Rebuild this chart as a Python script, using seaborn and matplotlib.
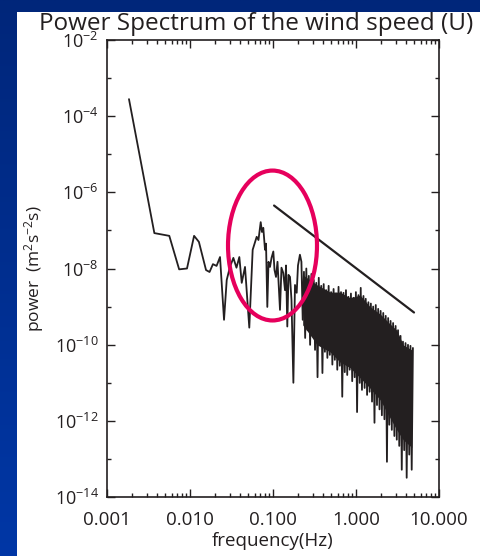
import numpy as np
import matplotlib
matplotlib.use("Agg")
import matplotlib.pyplot as plt
import seaborn as sns
import pandas as pd
from matplotlib.patches import Ellipse, Rectangle
from matplotlib.colors import LinearSegmentedColormap
from matplotlib.ticker import FixedLocator, FixedFormatter, LogLocator, NullFormatter

# ---------------- data ----------------
freq_low = [0.00184, 0.00372, 0.00563, 0.0074, 0.0092, 0.0112, 0.0128, 0.0156, 0.0172,
            0.0189, 0.0209, 0.0230, 0.0257, 0.0277, 0.0303, 0.0333, 0.0363, 0.0393,
            0.0420, 0.0460, 0.0518, 0.0569, 0.0636, 0.0668, 0.0711, 0.0736, 0.0764,
            0.0801, 0.0824, 0.0854, 0.0883, 0.0920, 0.0960, 0.1009, 0.1043, 0.1087,
            0.1133, 0.1214, 0.1265, 0.1330, 0.1395, 0.1435, 0.1487, 0.1537, 0.1603,
            0.167, 0.176, 0.184, 0.193, 0.200, 0.211]
power_low = [2.8e-4, 8.5e-8, 7.2e-8, 9.5e-9, 1.0e-8, 7.2e-8, 5.0e-8, 9.1e-9, 8.1e-9,
             1.3e-8, 1.17e-8, 2.0e-8, 4.5e-10, 5.0e-9, 1.1e-8, 1.9e-8, 1.05e-8, 2.0e-8,
             4.2e-9, 1.1e-8, 2.8e-10, 3.1e-8, 6.8e-8, 5.6e-8, 1.65e-7, 9.1e-8, 1.17e-7,
             3.1e-8, 4.5e-8, 9.8e-10, 1.5e-8, 1.1e-8, 1.9e-8, 2.8e-8, 9.1e-9, 6.0e-9,
             1.5e-8, 8.2e-10, 1.05e-8, 7.6e-9, 2.7e-9, 1.2e-8, 3.0e-10, 6.8e-9, 6.0e-9,
             1.5e-9, 1.0e-11, 3.7e-9, 2.3e-9, 1.2e-8, 2.3e-8]

freq_high = [0.220, 0.228, 0.236, 0.244, 0.252, 0.261, 0.270, 0.280, 0.290, 0.300,
             0.310, 0.321, 0.332, 0.344, 0.356, 0.368, 0.381, 0.394, 0.408, 0.422,
             0.437, 0.452, 0.468, 0.484, 0.501, 0.519, 0.537, 0.556, 0.575, 0.595,
             0.616, 0.638, 0.660, 0.683, 0.707, 0.732, 0.757, 0.784, 0.811, 0.840,
             0.869, 0.900, 0.931, 0.964, 0.997, 1.03, 1.07, 1.11, 1.14, 1.18,
             1.23, 1.27, 1.31, 1.36, 1.41, 1.46, 1.51, 1.56, 1.61, 1.67,
             1.73, 1.79, 1.85, 1.92, 1.98, 2.05, 2.13, 2.20, 2.28, 2.36,
             2.44, 2.52, 2.61, 2.70, 2.80, 2.90, 3.00, 3.10, 3.21, 3.32,
             3.44, 3.56, 3.68, 3.81, 3.95, 4.08, 4.23, 4.38, 4.53, 4.69, 4.85]
power_high = [1.5e-8, 4.5e-10, 8.2e-9, 1.5e-10, 1.0e-8, 2.4e-10, 6.4e-9, 9.9e-11, 7.2e-9, 1.8e-10,
              5.0e-9, 7.3e-11, 4.2e-9, 1.4e-11, 5.7e-9, 9.9e-11, 3.5e-9, 1.8e-11, 3.9e-9, 6.5e-11,
              2.7e-9, 4.5e-11, 3.5e-9, 5.4e-11, 2.4e-9, 3.0e-11, 2.9e-9, 4.0e-11, 2.2e-9, 2.2e-11,
              3.3e-9, 2.8e-11, 2.4e-9, 4.3e-12, 2.3e-9, 1.9e-11, 2.7e-9, 1.6e-11, 1.8e-9, 2.2e-11,
              2.2e-9, 1.1e-11, 1.7e-9, 1.4e-11, 2.4e-9, 1.7e-12, 2.0e-9, 9.9e-12, 3.1e-9, 6.5e-12,
              1.9e-9, 7.3e-12, 1.6e-9, 4.8e-12, 1.3e-9, 5.8e-12, 1.2e-9, 3.2e-12, 1.0e-9, 8.9e-13,
              1.1e-9, 2.6e-12, 8.7e-10, 2.0e-12, 7.7e-10, 1.4e-12, 6.8e-10, 1.1e-12, 5.7e-10, 8.4e-14,
              5.0e-10, 7.9e-13, 4.2e-10, 5.8e-13, 3.7e-10, 4.0e-13, 3.1e-10, 3.2e-13, 2.4e-10, 2.2e-13,
              1.7e-10, 5.2e-14, 1.2e-10, 1.7e-13, 1.1e-10, 3.2e-14, 9.9e-11, 1.3e-13, 9.3e-11, 5.2e-14, 8.2e-11]

# solid (fully inked) body of the dense high-frequency part
body_freq = [0.228, 0.280, 0.34, 0.486, 0.641, 0.847, 1.12, 1.47, 1.95, 2.57, 3.10, 3.70, 4.70]
body_upper = [6.8e-9, 5.0e-9, 3.7e-9, 2.4e-9, 2.4e-9, 1.7e-9, 2.0e-9, 1.0e-9, 6.4e-10,
              3.5e-10, 2.4e-10, 9.9e-11, 7.3e-11]
body_lower = [3.3e-10, 1.8e-10, 9.9e-11, 6.5e-11, 3.5e-11, 2.5e-11, 1.35e-11, 7.3e-12,
              3.6e-12, 1.2e-12, 5.8e-13, 3.2e-13, 2.0e-13]

ref_freq = [0.103, 5.0]
ref_power = [4.5e-7, 7.0e-10]

x_ticks = [0.001, 0.01, 0.1, 1.0, 10.0]
x_tick_labels = ["0.001", "0.010", "0.100", "1.000", "10.000"]
y_ticks = [1e-14, 1e-12, 1e-10, 1e-8, 1e-6, 1e-4, 1e-2]
y_tick_labels = [r"$10^{-14}$", r"$10^{-12}$", r"$10^{-10}$", r"$10^{-8}$",
                 r"$10^{-6}$", r"$10^{-4}$", r"$10^{-2}$"]
y_minor_ticks = [1e-13, 1e-11, 1e-9, 1e-7, 1e-5, 1e-3]

title = "Power Spectrum of the wind speed (U)"
x_label = "frequency(Hz)"
y_label = r"power  (m$^{2}$s$^{-2}$s)"

# ---------------- style ----------------
sns.set_theme(style="ticks")
plt.rcParams["font.family"] = ["Open Sans", "DejaVu Sans"]
plt.rcParams["mathtext.default"] = "regular"
ink = "#231f20"

W, H = 480, 556
fig = plt.figure(figsize=(W / 100, H / 100), dpi=100)

# background: blue gradient with white panel
bg = fig.add_axes([0, 0, 1, 1], zorder=0)
grad = np.linspace(0, 1, 256).reshape(-1, 1)
cmap = LinearSegmentedColormap.from_list("bg", ["#00267a", "#0037a6"])
bg.imshow(grad, aspect="auto", cmap=cmap, extent=[0, 1, 0, 1], origin="upper")
bg.add_patch(Rectangle((17 / W, 0), 1, (H - 12) / H, facecolor="white", edgecolor="none"))
bg.set_xlim(0, 1)
bg.set_ylim(0, 1)
bg.axis("off")

ax = fig.add_axes([107 / W, 1 - 497 / H, 332 / W, 457 / H], zorder=1)
ax.set_facecolor("white")
ax.set_xscale("log")
ax.set_yscale("log")

ax.fill_between(body_freq, body_lower, body_upper, color=ink, lw=0)
df = pd.DataFrame({"frequency": freq_low + freq_high, "power": power_low + power_high})
sns.lineplot(data=df, x="frequency", y="power", ax=ax, color=ink, lw=1.3,
             estimator=None, sort=False)
sns.lineplot(x=ref_freq, y=ref_power, ax=ax, color=ink, lw=1.6, estimator=None, sort=False)

ax.add_patch(Ellipse((0.4985, 0.5503), 0.268, 0.328, transform=ax.transAxes,
                     fill=False, edgecolor="#e6005c", lw=3.0, zorder=5))

ax.set_xlim(1e-3, 10)
ax.set_ylim(1e-14, 1e-2)
ax.xaxis.set_major_locator(FixedLocator(x_ticks))
ax.xaxis.set_major_formatter(FixedFormatter(x_tick_labels))
ax.xaxis.set_minor_locator(LogLocator(base=10, subs=np.arange(2, 10)))
ax.xaxis.set_minor_formatter(NullFormatter())
ax.yaxis.set_major_locator(FixedLocator(y_ticks))
ax.yaxis.set_major_formatter(FixedFormatter(y_tick_labels))
ax.yaxis.set_minor_locator(FixedLocator(y_minor_ticks))
ax.yaxis.set_minor_formatter(NullFormatter())

ax.tick_params(which="both", direction="in", top=True, right=True, color=ink,
               width=1.0, labelcolor=ink)
ax.tick_params(which="major", length=5.5)
ax.tick_params(which="minor", length=3)
ax.tick_params(axis="x", which="major", labelsize=13.5, pad=10)
ax.tick_params(axis="y", which="major", labelsize=13, pad=6)
for s in ax.spines.values():
    s.set_color(ink)
    s.set_linewidth(1.2)

ax.set_xlabel(x_label, fontsize=13.5, color=ink, labelpad=2)
ax.set_ylabel(y_label, fontsize=12.5, color=ink, labelpad=6)

fig.text(256 / W, 1 - 30.5 / H, title, ha="center", va="baseline", fontsize=17.5, color=ink)

fig.savefig("out.png", dpi=100)
